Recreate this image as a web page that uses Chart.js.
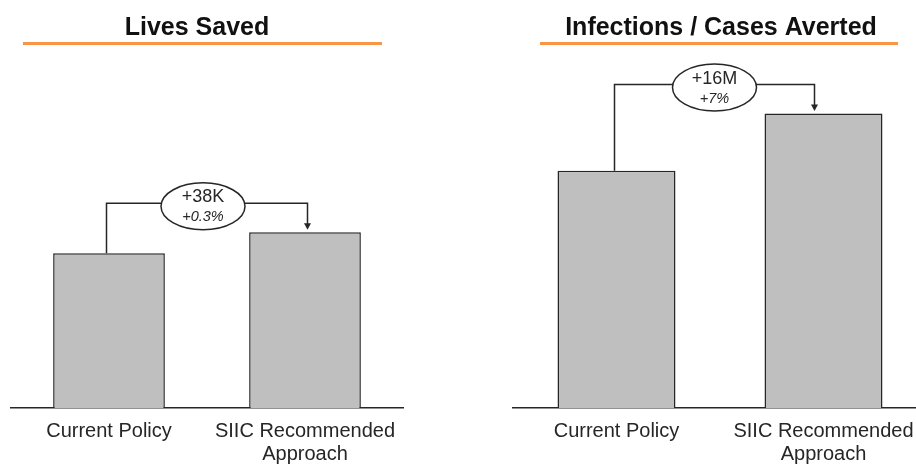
<!DOCTYPE html>
<html lang="en">
<head>
    <meta charset="UTF-8">
    <title>Lives Saved / Infections Averted</title>
    <script src="https://cdn.jsdelivr.net/npm/chart.js"></script>
    <style>
        html, body { margin: 0; padding: 0; background: #fff; overflow: hidden; }
        #wrap { position: relative; width: 916px; height: 465px; overflow: hidden; }
        canvas { position: absolute; top: 0; }
        #livesChart { left: 0; }
        #infectionsChart { left: 458px; }
    </style>
</head>
<body>
<div id="wrap">
    <canvas id="livesChart" width="458" height="465"></canvas>
    <canvas id="infectionsChart" width="480" height="465"></canvas>
</div>
<script>
// Categories shared by both panels
var policies = ['Current Policy', ['SIIC Recommended', 'Approach']];
// Lives saved, thousands (+38K = +0.3%)
var livesSaved = [12670, 12708];
// Infections / cases averted, millions (+16M = +7%)
var infectionsAverted = [229, 245];
var chartTitles = ['Lives Saved', 'Infections / Cases Averted'];
var deltaLabels = ['+38K', '+16M'];
var pctLabels = ['+0.3%', '+7%'];

var FONT = '"Liberation Sans", Arial, sans-serif';
var INK = '#262626';

// Title with an orange rule under it
var panelTitle = {
    id: 'panelTitle',
    beforeDraw: function(chart, args, opts) {
        var ctx = chart.ctx;
        ctx.save();
        ctx.fillStyle = '#111';
        ctx.font = 'bold 25px ' + FONT;
        ctx.textAlign = 'center';
        ctx.textBaseline = 'alphabetic';
        ctx.fillText(opts.text, opts.cx, 35);
        ctx.strokeStyle = '#f79646';
        ctx.lineWidth = 3;
        ctx.beginPath();
        ctx.moveTo(opts.x1, 43.5);
        ctx.lineTo(opts.x2, 43.5);
        ctx.stroke();
        ctx.restore();
    }
};

// Bracket from bar 1 to bar 2 with the delta bubble
var deltaCallout = {
    id: 'deltaCallout',
    afterDatasetsDraw: function(chart, args, opts) {
        var ctx = chart.ctx;
        var bars = chart.getDatasetMeta(0).data;
        var x1 = bars[0].x + opts.leftDx;
        var x2 = bars[1].x + opts.arrowDx;
        var lineY = bars[1].y - 29;
        var cx = (x1 + x2) / 2 + opts.bubbleDx;
        var cy = lineY + 3;

        ctx.save();
        ctx.strokeStyle = INK;
        ctx.fillStyle = INK;
        ctx.lineWidth = 1.5;
        ctx.beginPath();
        ctx.moveTo(x1, bars[0].y);
        ctx.lineTo(x1, lineY);
        ctx.lineTo(x2, lineY);
        ctx.lineTo(x2, bars[1].y - 8);
        ctx.stroke();

        // arrow head
        ctx.beginPath();
        ctx.moveTo(x2 - 3.5, bars[1].y - 9);
        ctx.lineTo(x2 + 3.5, bars[1].y - 9);
        ctx.lineTo(x2, bars[1].y - 2.5);
        ctx.closePath();
        ctx.fill();

        // bubble
        ctx.beginPath();
        ctx.ellipse(cx, cy, opts.rx, 23.5, 0, 0, Math.PI * 2);
        ctx.fillStyle = '#fff';
        ctx.fill();
        ctx.stroke();

        ctx.fillStyle = INK;
        ctx.textAlign = 'center';
        ctx.textBaseline = 'middle';
        ctx.font = '18px ' + FONT;
        ctx.fillText(opts.delta, cx, cy - 9);
        ctx.font = 'italic 14.5px ' + FONT;
        ctx.fillText(opts.pct, cx, cy + 11);
        ctx.restore();
    }
};

function makePanel(id, values, yMin, yMax, pad, titleOpts, calloutOpts) {
    var ctx = document.getElementById(id).getContext('2d');
    return new Chart(ctx, {
        type: 'bar',
        data: {
            labels: policies,
            datasets: [{
                data: values,
                backgroundColor: '#bfbfbf',
                borderColor: INK,
                borderWidth: 1.5,
                categoryPercentage: 1,
                barPercentage: 0.57
            }]
        },
        options: {
            responsive: false,
            animation: false,
            layout: { padding: pad },
            plugins: {
                legend: { display: false },
                tooltip: { enabled: false },
                panelTitle: titleOpts,
                deltaCallout: calloutOpts
            },
            scales: {
                x: {
                    grid: { display: false, drawTicks: false },
                    border: { display: true, color: INK, width: 1.5 },
                    ticks: {
                        color: INK,
                        padding: 12,
                        maxRotation: 0,
                        autoSkip: false,
                        font: { family: FONT, size: 20, lineHeight: 1.15 }
                    },
                    afterFit: function(scale) { scale.height = 57; }
                },
                y: {
                    display: false,
                    min: yMin,
                    max: yMax
                }
            }
        },
        plugins: [panelTitle, deltaCallout]
    });
}

makePanel('livesChart', livesSaved, 12390, 13020,
    { top: 60, left: 11, right: 55, bottom: 0 },
    { text: chartTitles[0], cx: 197, x1: 23, x2: 382 },
    { delta: deltaLabels[0], pct: pctLabels[0], leftDx: -2.5, arrowDx: 2.5, bubbleDx: -4, rx: 42 });

makePanel('infectionsChart', infectionsAverted, 162.5, 260,
    { top: 60, left: 55, right: 11, bottom: 0 },
    { text: chartTitles[1], cx: 263, x1: 82, x2: 440 },
    { delta: deltaLabels[1], pct: pctLabels[1], leftDx: -2, arrowDx: -9, bubbleDx: 0, rx: 42 });
</script>
</body>
</html>
